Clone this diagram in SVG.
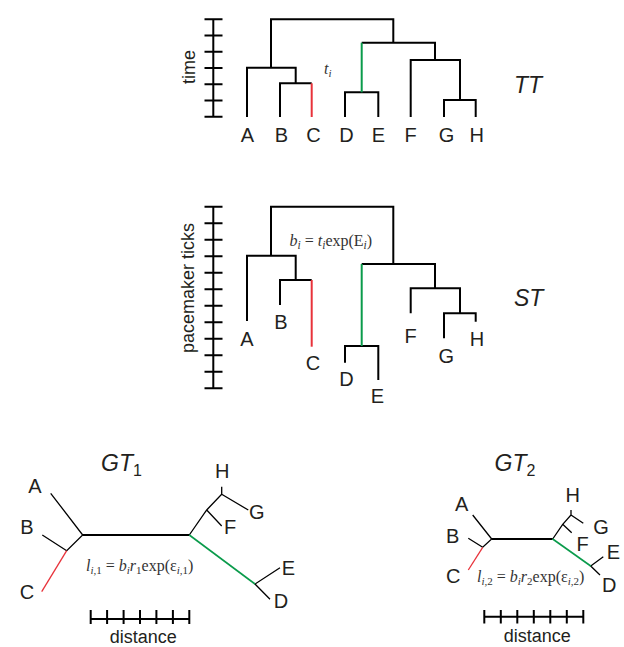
<svg xmlns="http://www.w3.org/2000/svg" width="624" height="647" viewBox="0 0 624 647">
<style>
.k{fill:none;stroke:#000;stroke-width:2;stroke-linejoin:miter}
.ax{fill:none;stroke:#000;stroke-width:2}
.t{fill:none;stroke:#000;stroke-width:1.3;stroke-linejoin:miter}
.th{fill:none;stroke:#000;stroke-width:2}
.red{fill:none;stroke:#e8323a}
.grn{fill:none;stroke:#0a9b4b}
.lb{font-family:"Liberation Sans",Arial,sans-serif;font-size:20px;fill:#231f20;text-anchor:middle}
.ttl{font-family:"Liberation Sans",Arial,sans-serif;font-size:23px;font-style:italic;fill:#231f20}
.axl{font-family:"Liberation Sans",Arial,sans-serif;font-size:18px;fill:#231f20;text-anchor:middle}
.f{font-family:"Liberation Serif","Times New Roman",serif;font-size:16px;fill:#333}
.i{font-style:italic}
</style>

<g id="axis-time">
<path class="ax" d="M213.3,19.3V116.7M204.5,19.3H222.5M204.5,35.5H222.5M204.5,51.7H222.5M204.5,68H222.5M204.5,84.2H222.5M204.5,100.4H222.5M204.5,116.7H222.5"/>
<text class="axl" transform="translate(195,67) rotate(-90)">time</text>
</g>

<g id="tt-tree">
<g id="tt-connectors">
<path class="k" d="M271,67.7V19.3H393.3V42.7M247,117V67.7H295.7V83.3M280,117V83.3H311.7M361.7,42.7H435V60M345,117V92.3H378.3V117M410.7,117V60H460V100M444,117V100H475.7V117"/>
<path class="red" stroke-width="2" d="M311.7,83.3V117"/>
<path class="grn" stroke-width="2" d="M361.7,42.7V92.3"/>
</g>
<g id="tt-A"><text class="lb" x="247.3" y="141.5">A</text></g>
<g id="tt-B"><text class="lb" x="281.5" y="141.5">B</text></g>
<g id="tt-C"><text class="lb" x="313.5" y="141.5">C</text></g>
<g id="tt-D"><text class="lb" x="346.5" y="141.5">D</text></g>
<g id="tt-E"><text class="lb" x="378.3" y="141.5">E</text></g>
<g id="tt-F"><text class="lb" x="410.7" y="141.5">F</text></g>
<g id="tt-G"><text class="lb" x="446.5" y="141.5">G</text></g>
<g id="tt-H"><text class="lb" x="476.7" y="141.5">H</text></g>
<text class="f" x="324" y="74"><tspan class="i">t</tspan><tspan class="i" font-size="11" dy="3">i</tspan></text>
<text class="ttl" x="514" y="92.7">TT</text>
</g>

<g id="axis-pacemaker">
<path class="ax" d="M213.3,206.7V388.3M204.5,206.7H222.5M204.5,223.2H222.5M204.5,239.7H222.5M204.5,256.2H222.5M204.5,272.7H222.5M204.5,289.2H222.5M204.5,305.8H222.5M204.5,322.3H222.5M204.5,338.8H222.5M204.5,355.3H222.5M204.5,371.8H222.5M204.5,388.3H222.5"/>
<text class="axl" transform="translate(194,288) rotate(-90)">pacemaker ticks</text>
</g>

<g id="st-tree">
<g id="st-connectors">
<path class="k" d="M271,255.7V206.7H393.3V264M247,321V255.7H295.7V280M280,305V280H311.7M361.7,264H435V288.3M345,362.7V346H378.3V380M410.7,313.3V288.3H460V313.3M444,338.3V313.3H475.7V321.7"/>
<path class="red" stroke-width="2" d="M311.7,280V346.7"/>
<path class="grn" stroke-width="2" d="M361.7,264V346"/>
</g>
<g id="st-A"><text class="lb" x="247" y="346">A</text></g>
<g id="st-B"><text class="lb" x="281" y="328.5">B</text></g>
<g id="st-C"><text class="lb" x="313" y="370">C</text></g>
<g id="st-D"><text class="lb" x="346.5" y="386">D</text></g>
<g id="st-E"><text class="lb" x="377.5" y="402.5">E</text></g>
<g id="st-F"><text class="lb" x="410.7" y="342.5">F</text></g>
<g id="st-G"><text class="lb" x="446.3" y="362.5">G</text></g>
<g id="st-H"><text class="lb" x="477" y="346">H</text></g>
<text class="f" x="289.5" y="245.5" font-size="17"><tspan class="i">b</tspan><tspan class="i" font-size="11.5" dy="3">i</tspan><tspan dy="-3"> = </tspan><tspan class="i">t</tspan><tspan class="i" font-size="11.5" dy="3">i</tspan><tspan dy="-3">exp(E</tspan><tspan class="i" font-size="11.5" dy="3">i</tspan><tspan dy="-3">)</tspan></text>
<text class="ttl" x="514" y="306">ST</text>
</g>

<g id="gt1-tree">
<g id="gt1-connectors">
<path class="th" d="M82.7,535H189.3"/>
<path class="t" d="M50.7,493.3L82.7,535L66.7,550.7L42.3,535M189.3,535L206.7,510L221.7,494.3V486.7M206.7,510L221.7,526M221.7,494.3L248.3,510M280,567.7L255,584L270,599.3"/>
<path class="red" stroke-width="1.3" d="M66.7,550.7L41.7,591.7"/>
<path class="grn" stroke-width="1.6" d="M189.3,535L255,584"/>
</g>
<g id="gt1-A"><text class="lb" x="35" y="493.3">A</text></g>
<g id="gt1-B"><text class="lb" x="27" y="534.3">B</text></g>
<g id="gt1-C"><text class="lb" x="27" y="599">C</text></g>
<g id="gt1-H"><text class="lb" x="222.3" y="477.7">H</text></g>
<g id="gt1-G"><text class="lb" x="256.7" y="519">G</text></g>
<g id="gt1-F"><text class="lb" x="230" y="534.3">F</text></g>
<g id="gt1-E"><text class="lb" x="288.3" y="575">E</text></g>
<g id="gt1-D"><text class="lb" x="281" y="607.7">D</text></g>
<text class="ttl" x="101" y="470.7" font-size="26">GT<tspan font-style="normal" font-size="16" dy="5">1</tspan></text>
<text class="f" x="86" y="571"><tspan class="i">l</tspan><tspan font-size="11" dy="3"><tspan class="i">i</tspan>,1</tspan><tspan dy="-3"> = </tspan><tspan class="i">b</tspan><tspan class="i" font-size="11" dy="3">i</tspan><tspan class="i" dy="-3">r</tspan><tspan font-size="11" dy="3">1</tspan><tspan dy="-3">exp(ε</tspan><tspan font-size="11" dy="3"><tspan class="i">i</tspan>,1</tspan><tspan dy="-3">)</tspan></text>
<g id="gt1-scale">
<path class="th" d="M90.7,619H189.3M90.7,610V624M107.1,610V624M123.6,610V624M140,610V624M156.4,610V624M172.9,610V624M189.3,610V624"/>
<text class="axl" x="143.3" y="642.5">distance</text>
</g>
</g>

<g id="gt2-tree">
<g id="gt2-connectors">
<path class="th" d="M491.7,539H552.7"/>
<path class="t" d="M472.7,515L491.7,539L482.7,547.3L468.3,538.3M552.7,539L562.7,524.3L571,515V510M562.7,524.3L571.7,532.7M571,515L583.3,523.3M603.3,556.7L590.7,566L600,575"/>
<path class="red" stroke-width="1.3" d="M482.7,547.3L468.3,570"/>
<path class="grn" stroke-width="1.6" d="M552.7,539L590.7,566"/>
</g>
<g id="gt2-A"><text class="lb" x="461.7" y="511">A</text></g>
<g id="gt2-B"><text class="lb" x="452.7" y="542.7">B</text></g>
<g id="gt2-C"><text class="lb" x="453.3" y="583.3">C</text></g>
<g id="gt2-H"><text class="lb" x="572.7" y="501.7">H</text></g>
<g id="gt2-G"><text class="lb" x="601" y="534.3">G</text></g>
<g id="gt2-F"><text class="lb" x="582.7" y="551">F</text></g>
<g id="gt2-E"><text class="lb" x="613.3" y="559.3">E</text></g>
<g id="gt2-D"><text class="lb" x="609.3" y="591.7">D</text></g>
<text class="ttl" x="494.5" y="470.7" font-size="26">GT<tspan font-style="normal" font-size="16" dy="5">2</tspan></text>
<text class="f" x="477" y="581.5"><tspan class="i">l</tspan><tspan font-size="11" dy="3"><tspan class="i">i</tspan>,2</tspan><tspan dy="-3"> = </tspan><tspan class="i">b</tspan><tspan class="i" font-size="11" dy="3">i</tspan><tspan class="i" dy="-3">r</tspan><tspan font-size="11" dy="3">2</tspan><tspan dy="-3">exp(ε</tspan><tspan font-size="11" dy="3"><tspan class="i">i</tspan>,2</tspan><tspan dy="-3">)</tspan></text>
<g id="gt2-scale">
<path class="th" d="M484.3,616.7H583.3M484.3,610V623.5M500.8,610V623.5M517.3,610V623.5M533.8,610V623.5M550.3,610V623.5M566.8,610V623.5M583.3,610V623.5"/>
<text class="axl" x="537.3" y="642">distance</text>
</g>
</g>
</svg>
